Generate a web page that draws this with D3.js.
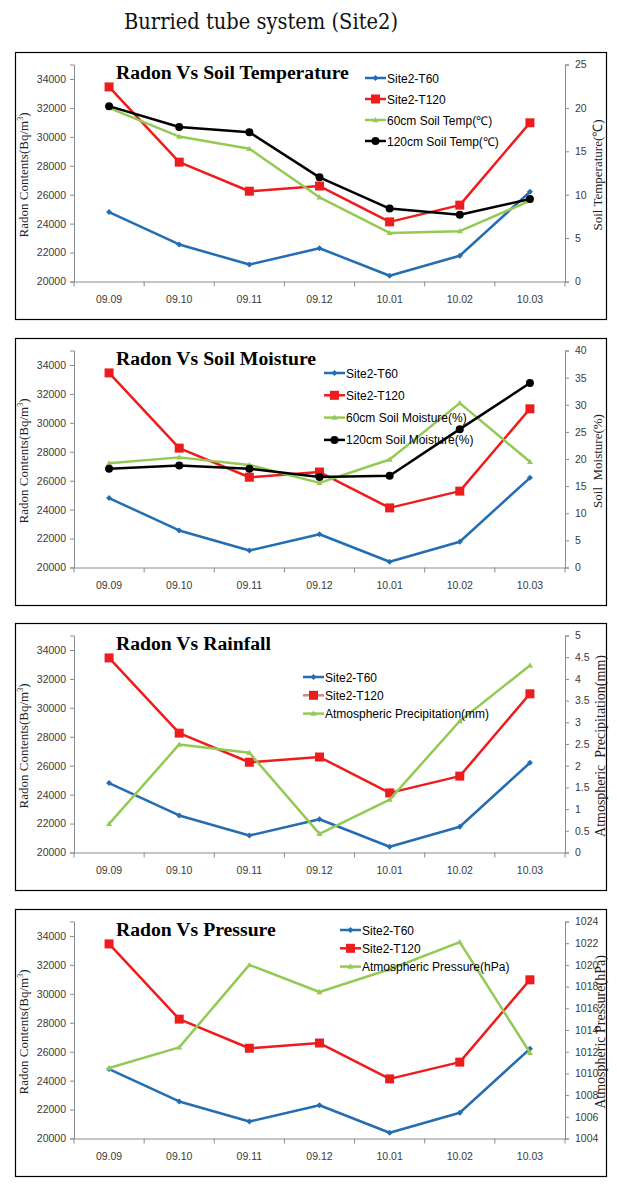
<!DOCTYPE html>
<html><head><meta charset="utf-8">
<script src="https://cdn.jsdelivr.net/npm/d3@7"></script>
<style>body{margin:0;background:#fff}svg{display:block}</style>
</head><body>
<svg id="c" width="617" height="1188"></svg>
<script>
const categories = ["09.09","09.10","09.11","09.12","10.01","10.02","10.03"];
const radonT60  = [24800, 22560, 21170, 22300, 20400, 21780, 26200];
const radonT120 = [33450, 28250, 26240, 26600, 24120, 25280, 30970];
const soilTemp60  = [20.0, 16.7, 15.3, 9.7, 5.6, 5.8, 9.3];
const soilTemp120 = [20.2, 17.8, 17.2, 12.0, 8.4, 7.7, 9.5];
const soilMoist60  = [19.2, 20.3, 18.9, 15.6, 19.9, 30.3, 19.5];
const soilMoist120 = [18.2, 18.8, 18.2, 16.7, 16.9, 25.5, 34.0];
const precipitation = [0.66, 2.49, 2.30, 0.43, 1.22, 3.03, 4.31];
const pressure = [1010.5, 1012.4, 1020.0, 1017.5, 1019.6, 1022.1, 1011.9];
const radonTicks = [20000, 22000, 24000, 26000, 28000, 30000, 32000, 34000];
const tempTicks = [0, 5, 10, 15, 20, 25];
const moistTicks = [0, 5, 10, 15, 20, 25, 30, 35, 40];
const precipTicks = [0, 0.5, 1, 1.5, 2, 2.5, 3, 3.5, 4, 4.5, 5];
const pressureTicks = [1004, 1006, 1008, 1010, 1012, 1014, 1016, 1018, 1020, 1022, 1024];

const BLUE = "#236db3", RED = "#ee1c1c", GREEN = "#94c954", BLACK = "#000";
const sT60 = {name:"Site2-T60", values:radonT60, axis:"L", color:BLUE, marker:"diamond"};
const sT120 = {name:"Site2-T120", values:radonT120, axis:"L", color:RED, marker:"square"};

const panels = [
  {top:52, title:"Radon Vs Soil Temperature", rDomain:[0,25], rTicks:tempTicks, rTitle:"Soil Temperature(℃)", rTitleSize:13, rTitleX:602,
   series:[sT60, sT120,
     {name:"60cm Soil Temp(℃)", values:soilTemp60, axis:"R", color:GREEN, marker:"triangle"},
     {name:"120cm Soil Temp(℃)", values:soilTemp120, axis:"R", color:BLACK, marker:"circle"}],
   legend:{x:365, y:78, dy:21}},
  {top:338, title:"Radon Vs Soil Moisture", rDomain:[0,40], rTicks:moistTicks, rTitle:"Soil  Moisture(%)", rTitleSize:13, rTitleX:602,
   series:[sT60, sT120,
     {name:"60cm Soil Moisture(%)", values:soilMoist60, axis:"R", color:GREEN, marker:"triangle"},
     {name:"120cm Soil Moisture(%)", values:soilMoist120, axis:"R", color:BLACK, marker:"circle"}],
   legend:{x:324, y:373, dy:22.3}},
  {top:623, title:"Radon Vs Rainfall", rDomain:[0,5], rTicks:precipTicks, rTitle:"Atmospheric  Precipitation(mm)", rTitleSize:14, rTitleX:605,
   series:[sT60, Object.assign({}, sT120, {legendLine:"#c98b8b"}),
     {name:"Atmospheric Precipitation(mm)", values:precipitation, axis:"R", color:GREEN, marker:"triangle"}],
   legend:{x:303, y:677, dy:18.3}},
  {top:909, title:"Radon Vs Pressure", rDomain:[1004,1024], rTicks:pressureTicks, rTitle:"Atmospheric Pressure(hPa)", rTitleSize:14, rTitleX:605,
   series:[sT60, sT120,
     {name:"Atmospheric Pressure(hPa)", values:pressure, axis:"R", color:GREEN, marker:"triangle"}],
   legend:{x:340, y:930, dy:18.3}}
];

const svg = d3.select("#c");
svg.append("text").attr("x", 124).attr("y", 29)
  .attr("font-family", "DejaVu Serif").attr("font-size", 22)
  .attr("textLength", 274).attr("lengthAdjust", "spacingAndGlyphs")
  .attr("fill", "#111").text("Burried tube system (Site2)");

const L = 74, R = 565;
const x = d3.scaleBand().domain(categories).range([L, R]);
const cx = d => x(d) + x.bandwidth() / 2;

function drawMarker(g, type, px, py, color) {
  if (type === "square") {
    g.append("rect").attr("x", px - 4.5).attr("y", py - 4.5).attr("width", 9).attr("height", 9).attr("fill", color);
  } else if (type === "circle") {
    g.append("circle").attr("cx", px).attr("cy", py).attr("r", 4).attr("fill", color);
  } else if (type === "diamond") {
    g.append("path").attr("d", `M${px},${py-3}L${px+3},${py}L${px},${py+3}L${px-3},${py}Z`).attr("fill", color);
  } else if (type === "triangle") {
    g.append("path").attr("d", `M${px},${py-3}L${px+3},${py+2.2}L${px-3},${py+2.2}Z`).attr("fill", color);
  }
}

panels.forEach(p => {
  const g = svg.append("g");
  const boxTop = p.top;
  const top = boxTop + 12.5, bot = boxTop + 229.5;
  g.append("rect").attr("x", 15.5).attr("y", boxTop + 0.5).attr("width", 591).attr("height", 267)
    .attr("fill", "#fff").attr("stroke", "#000").attr("stroke-width", 1.2);

  const yL = d3.scaleLinear().domain([20000, 35000]).range([bot, top]);
  const yR = d3.scaleLinear().domain(p.rDomain).range([bot, top]);

  const axL = d3.axisLeft(yL).tickValues(radonTicks).tickSize(4).tickPadding(4).tickFormat(d => String(d));
  const gl = g.append("g").attr("transform", `translate(${L},0)`).call(axL);
  const axR = d3.axisRight(yR).tickValues(p.rTicks).tickSize(4).tickPadding(6).tickFormat(d => String(d));
  const gr = g.append("g").attr("transform", `translate(${R},0)`).call(axR);
  const axB = d3.axisBottom(x).tickSize(0).tickPadding(14);
  const gb = g.append("g").attr("transform", `translate(0,${bot})`).call(axB);
  [gl, gr, gb].forEach(a => {
    a.select(".domain").attr("stroke", "#8c8c8c").attr("stroke-width", 1);
    a.selectAll(".tick line").attr("stroke", "#8c8c8c");
    a.selectAll("text").attr("font-family", "Liberation Sans, Arial, sans-serif")
      .attr("font-size", 10.5).attr("fill", "#3a3a3a");
  });
  g.append("g").selectAll("line").data(d3.range(categories.length + 1)).join("line")
    .attr("x1", i => L + i * x.step()).attr("x2", i => L + i * x.step())
    .attr("y1", bot).attr("y2", bot + 5).attr("stroke", "#8c8c8c");

  g.append("text").attr("transform", `translate(28,${(top + bot) / 2 + 2}) rotate(-90)`)
    .attr("text-anchor", "middle").attr("font-family", "Liberation Serif, Times New Roman, serif")
    .attr("font-size", 13).attr("fill", "#222")
    .html('Radon Contents(Bq/m<tspan dy="-5" font-size="8">3</tspan><tspan dy="5">)</tspan>');
  g.append("text").attr("transform", `translate(${p.rTitleX},${(top + bot) / 2 + 2}) rotate(-90)`)
    .attr("text-anchor", "middle").attr("font-family", "Liberation Serif, Times New Roman, serif")
    .attr("font-size", p.rTitleSize).attr("fill", "#222")
    .style("white-space", "pre").text(p.rTitle);

  g.append("text").attr("x", 116).attr("y", boxTop + 26.5)
    .attr("font-family", "Liberation Serif, Times New Roman, serif").attr("font-weight", "bold")
    .attr("font-size", 19.7).attr("fill", "#000").text(p.title);

  p.series.forEach(s => {
    const ys = s.axis === "L" ? yL : yR;
    const line = d3.line().x((v, i) => cx(categories[i])).y(v => ys(v));
    g.append("path").attr("d", line(s.values)).attr("fill", "none")
      .attr("stroke", s.color).attr("stroke-width", 2.5).attr("stroke-linejoin", "round");
    s.values.forEach((v, i) => drawMarker(g, s.marker, cx(categories[i]), ys(v), s.color));
  });

  p.series.forEach((s, i) => {
    const ly = p.legend.y + i * p.legend.dy;
    g.append("line").attr("x1", p.legend.x).attr("x2", p.legend.x + 21).attr("y1", ly).attr("y2", ly)
      .attr("stroke", s.legendLine || s.color).attr("stroke-width", 2.5);
    drawMarker(g, s.marker, p.legend.x + 10.5, ly, s.color);
    g.append("text").attr("x", p.legend.x + 22).attr("y", ly + 4.5)
      .attr("font-family", "Liberation Sans, Arial, sans-serif").attr("font-size", 12)
      .attr("fill", "#000").text(s.name);
  });
});
</script>
</body></html>
